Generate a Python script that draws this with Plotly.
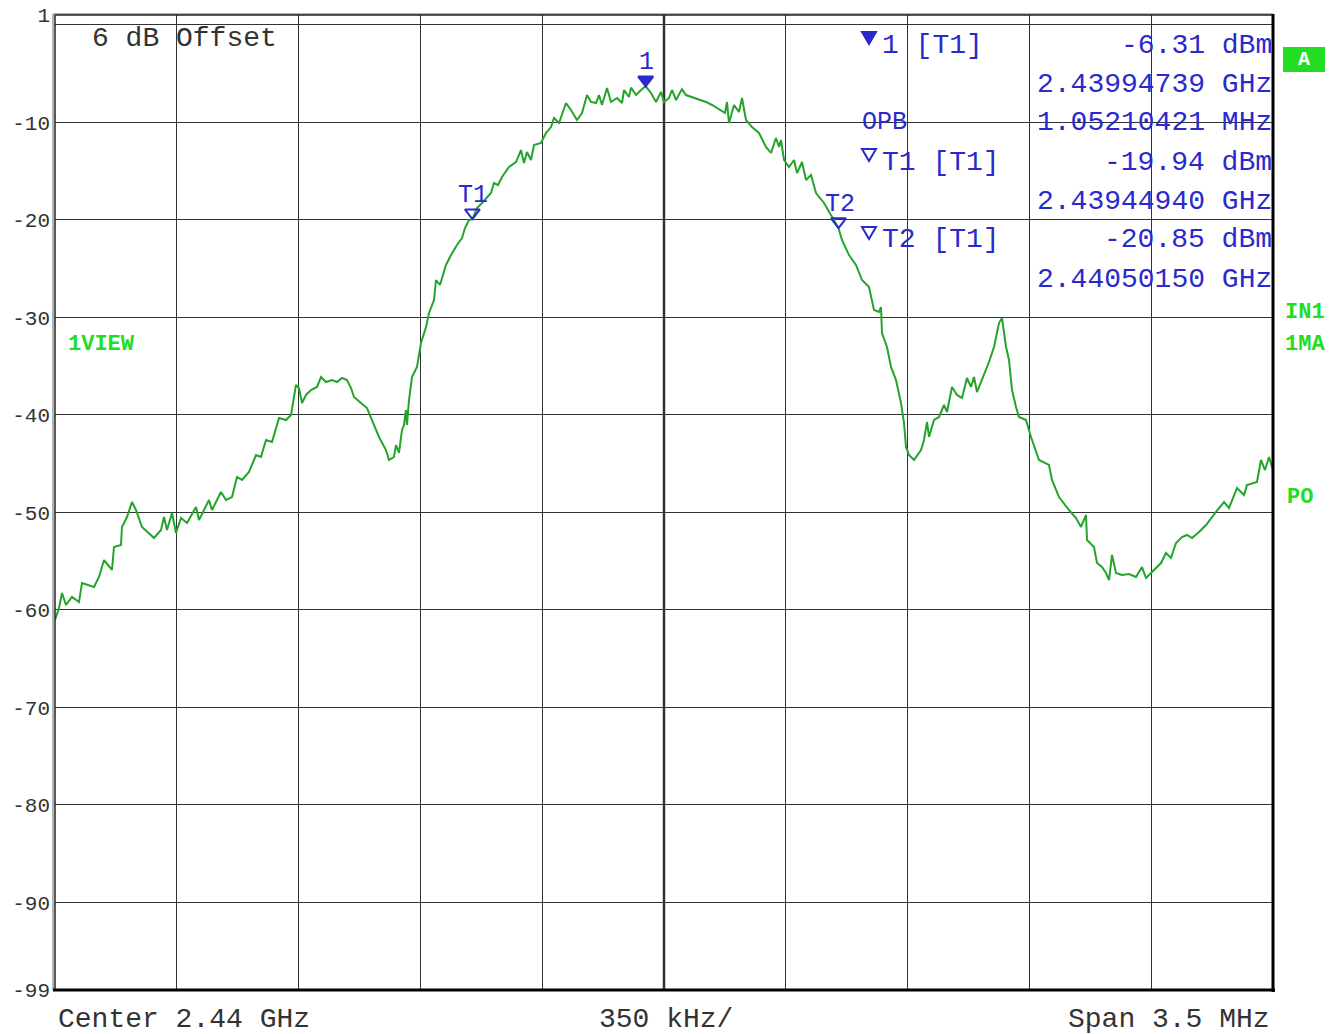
import plotly.graph_objects as go

# Analyzer settings
CENTER_GHZ = 2.44
SPAN_MHZ = 3.5
DIV_KHZ = 350
REF_TOP_DBM = 1
REF_BOTTOM_DBM = -99

# Trace 1: frequency offset from center (kHz) and level (dBm)
freq_offset_khz = [
    -1750, -1738.5, -1729.9, -1718.4, -1701.2, -1681.1, -1672.4, -1652.3, -1638.0, -1623.6,
    -1609.2, -1597.7, -1586.2, -1580.5, -1560.4, -1557.5, -1543.1, -1528.8, -1517.3, -1500.0,
    -1479.9, -1465.5, -1445.4, -1436.8, -1428.2, -1413.8, -1402.3, -1387.9, -1370.7, -1344.8,
    -1336.2, -1307.5, -1298.9, -1273.0, -1258.6, -1241.4, -1227.0, -1212.7, -1192.5, -1172.4,
    -1158.1, -1143.7, -1126.5, -1114.0, -1106.3, -1086.2, -1071.9, -1057.5, -1048.9, -1040.2,
    -1028.7, -1014.4, -997.1, -985.6, -971.3, -954.0, -939.7, -925.3, -910.9, -899.4,
    -890.8, -870.7, -853.5, -839.1, -819.0, -798.9, -790.2, -775.9, -770.1, -761.5,
    -752.9, -747.1, -741.4, -738.5, -732.8, -724.1, -709.8, -698.3, -683.9, -675.3,
    -660.9, -655.2, -643.7, -626.4, -612.1, -594.8, -580.5, -571.8, -560.4, -550.6,
    -537.4, -523.0, -508.6, -497.1, -488.5, -477.0, -465.5, -445.4, -425.3, -410.9,
    -402.3, -393.7, -382.2, -373.6, -353.5, -339.1, -324.7, -316.1, -301.7, -281.6,
    -267.2, -250.0, -235.6, -221.3, -209.8, -195.4, -186.8, -178.2, -163.8, -152.3,
    -135.1, -120.7, -114.9, -100.6, -94.8, -80.5, -66.1, -52.61, -37.4, -23.0,
    -8.6, 0.0, 14.4, 23.0, 34.5, 51.7, 63.2, 80.5, 100.6, 120.7,
    137.9, 163.8, 175.3, 181.0, 186.8, 201.2, 215.5, 224.1, 235.6, 252.9,
    273.0, 293.1, 307.5, 321.8, 330.5, 336.2, 344.8, 359.2, 373.6, 382.2,
    396.6, 408.1, 422.4, 436.8, 459.8, 501.5, 511.5, 531.6, 551.7, 569.0,
    589.1, 603.5, 617.8, 623.6, 626.4, 640.8, 652.3, 666.7, 681.0, 689.7,
    695.4, 704.0, 718.4, 738.5, 747.1, 755.8, 761.5, 775.9, 790.2, 804.6,
    813.2, 827.6, 842.0, 856.3, 870.7, 882.2, 890.8, 899.4, 913.8, 925.3,
    933.9, 948.3, 962.7, 971.3, 982.8, 991.4, 1000.0, 1011.5, 1020.1, 1040.2,
    1054.6, 1077.6, 1106.3, 1114.9, 1135.1, 1163.8, 1183.9, 1198.3, 1212.7, 1215.5,
    1235.6, 1244.3, 1258.6, 1270.1, 1278.8, 1287.4, 1298.9, 1316.1, 1336.2, 1356.3,
    1373.6, 1385.1, 1402.3, 1428.2, 1442.5, 1456.9, 1471.3, 1488.5, 1502.9, 1517.3,
    1537.4, 1557.5, 1586.2, 1609.2, 1623.6, 1646.6, 1666.7, 1675.3, 1704.0, 1715.5,
    1727.0, 1738.5, 1750,
]
level_dbm = [
    -61.05, -59.82, -58.28, -59.51, -58.69, -59.21, -57.26, -57.46, -57.67, -56.64,
    -54.90, -55.41, -55.92, -53.56, -53.36, -51.51, -50.49, -48.95, -49.77, -51.51,
    -52.13, -52.64, -51.82, -50.49, -51.82, -50.08, -52.13, -50.59, -51.10, -49.46,
    -50.79, -48.74, -49.77, -47.92, -48.74, -48.44, -46.38, -46.69, -45.87, -44.13,
    -44.33, -42.59, -42.79, -41.26, -40.33, -40.54, -40.03, -36.95, -37.26, -38.79,
    -37.97, -37.46, -37.15, -36.13, -36.64, -36.44, -36.64, -36.23, -36.44, -37.26,
    -38.18, -38.79, -39.31, -40.54, -42.28, -43.62, -44.64, -44.33, -43.10, -43.92,
    -41.56, -41.05, -39.51, -41.05, -38.49, -36.13, -35.10, -32.64, -31.00, -29.56,
    -28.23, -26.18, -26.69, -24.64, -23.62, -22.59, -21.87, -20.85, -20.03, -19.94,
    -18.80, -18.28, -17.77, -17.26, -16.23, -16.44, -15.62, -14.59, -14.08, -12.85,
    -14.18, -13.05, -13.87, -12.33, -12.13, -11.10, -10.49, -9.56, -10.08, -8.03,
    -8.74, -9.77, -9.05, -7.21, -7.92, -8.03, -7.21, -8.23, -6.49, -7.92,
    -7.51, -8.03, -6.69, -7.41, -6.45, -7.21, -6.69, -6.31, -7.00, -7.92,
    -6.90, -7.92, -7.51, -6.69, -7.72, -6.60, -7.21, -7.41, -7.72, -7.92,
    -8.23, -8.74, -9.05, -7.92, -10.08, -8.23, -8.95, -7.51, -9.77, -10.49,
    -11.10, -12.54, -13.15, -11.62, -12.54, -11.82, -13.87, -14.59, -13.87, -15.21,
    -14.08, -15.92, -15.41, -17.26, -18.28, -20.85, -22.08, -23.62, -24.64, -26.18,
    -26.90, -29.26, -29.46, -28.95, -31.62, -33.05, -35.10, -36.44, -38.79, -40.85,
    -43.31, -44.13, -44.64, -43.62, -42.59, -40.74, -42.28, -40.54, -40.23, -39.00,
    -39.72, -37.15, -37.97, -38.28, -36.23, -37.15, -36.13, -37.67, -36.44, -35.41,
    -34.59, -33.05, -30.59, -30.08, -33.05, -34.38, -37.46, -39.21, -40.23, -40.54,
    -42.28, -44.64, -45.15, -46.69, -48.44, -49.77, -50.59, -51.51, -50.28, -52.85,
    -53.56, -55.21, -55.62, -56.23, -56.95, -54.38, -56.23, -56.44, -56.33, -56.64,
    -55.62, -56.74, -56.13, -55.21, -54.18, -54.69, -53.15, -52.54, -52.33, -52.64,
    -52.03, -51.31, -49.97, -48.95, -49.56, -47.51, -48.23, -47.21, -46.90, -44.64,
    -45.67, -44.33, -45.67,
]

# Markers: peak marker 1 and the two occupied-bandwidth markers
marker_names = ["1", "T1", "T2"]
marker_offset_khz = [-52.61, -550.60, 501.50]
marker_level_dbm = [-6.31, -19.94, -20.85]
opb_mhz = 1.05210421

y_tick_vals = [1, -10, -20, -30, -40, -50, -60, -70, -80, -90, -99]

# Figure geometry (pixels)
W, H = 1341, 1034
L, R, T, B = 55, 68, 15, 44
PW, PH = W - L - R, H - T - B
PX_PER_DB = PH / (REF_TOP_DBM - REF_BOTTOM_DBM)

TRACE_GREEN = "#22a52a"
MARK_BLUE = "#2a2acc"
LABEL_GREEN = "#22dd22"
GRID = "#333333"
MONO = "Liberation Mono, Courier New, monospace"


def xp(px):
    return (px - L) / PW


def yp(py):
    return (T + PH - py) / PH


fig = go.Figure()

fig.add_trace(go.Scatter(
    x=freq_offset_khz, y=level_dbm, mode="lines",
    line=dict(color=TRACE_GREEN, width=2),
    hoverinfo="skip", showlegend=False,
))

# Marker triangles, tip resting on the trace
mk_size = 13
tip_db = (mk_size / 2) / PX_PER_DB
fig.add_trace(go.Scatter(
    x=marker_offset_khz,
    y=[v + tip_db for v in marker_level_dbm],
    mode="markers",
    marker=dict(symbol=["triangle-down", "triangle-down-open", "triangle-down-open"],
                size=mk_size, color=MARK_BLUE, line=dict(color=MARK_BLUE, width=2)),
    hoverinfo="skip", showlegend=False,
))

annotations = []
for name, off, lvl in zip(marker_names, marker_offset_khz, marker_level_dbm):
    annotations.append(dict(
        x=off, y=lvl, xref="x", yref="y", text=name, showarrow=False,
        yshift=24, xshift=1, yanchor="middle", xanchor="center",
        font=dict(family=MONO, size=25, color=MARK_BLUE),
    ))


def txt(s, px, py, anchor="left", size=28, color="#333333", bold=False):
    annotations.append(dict(
        x=xp(px), y=yp(py), xref="paper", yref="paper",
        text=f"<b>{s}</b>" if bold else s, showarrow=False,
        xanchor=anchor, yanchor="middle",
        font=dict(family=MONO, size=size, color=color),
    ))


def readout_triangle(cx, cy, filled):
    # small downward triangle drawn in page pixels around (cx, cy)
    path = (f"M {xp(cx - 7)},{yp(cy - 6)} L {xp(cx + 7)},{yp(cy - 6)} "
            f"L {xp(cx)},{yp(cy + 6)} Z")
    return dict(type="path", xref="paper", yref="paper", path=path,
                fillcolor=MARK_BLUE if filled else "rgba(0,0,0,0)",
                line=dict(color=MARK_BLUE, width=2), layer="above")


shapes = []

# Header inside the graticule
txt("6 dB Offset", 90, 38)

# Marker readout block
rows_y = [45, 162, 240]
filled = [True, False, False]
for i, (name, off, lvl) in enumerate(zip(marker_names, marker_offset_khz, marker_level_dbm)):
    ry = rows_y[i]
    shapes.append(readout_triangle(869, ry - 7, filled[i]))
    txt(f"{name} [T1]", 880, ry, color=MARK_BLUE)
    txt(f"{lvl:.2f} dBm", 1274, ry, anchor="right", color=MARK_BLUE)
    txt(f"{CENTER_GHZ + off / 1e6:.8f} GHz", 1274, ry + 39, anchor="right", color=MARK_BLUE)
txt("OPB", 860, 123, color=MARK_BLUE, size=25)
txt(f"{opb_mhz:.8f} MHz", 1274, 123, anchor="right", color=MARK_BLUE)

# Bottom annotation line
txt(f"Center {CENTER_GHZ:g} GHz", 56, 1020)
txt(f"{DIV_KHZ} kHz/", 666, 1020, anchor="center")
txt(f"Span {SPAN_MHZ:g} MHz", 1272, 1020, anchor="right")

# Green status labels
txt("1VIEW", 66, 344, size=22, color=LABEL_GREEN, bold=True)
txt("IN1", 1283, 312, size=22, color=LABEL_GREEN, bold=True)
txt("1MA", 1283, 344, size=22, color=LABEL_GREEN, bold=True)
txt("PO", 1285, 497, size=22, color=LABEL_GREEN, bold=True)
txt("A", 1304, 60, anchor="center", size=20, color="white", bold=True)

shapes += [
    # trace "A" badge
    dict(type="rect", xref="paper", yref="paper", x0=xp(1283), x1=xp(1325),
         y0=yp(72), y1=yp(47), fillcolor=LABEL_GREEN, line=dict(width=0), layer="above"),
    # doubled center line of the graticule
    dict(type="line", xref="x", yref="paper", x0=0, x1=0, y0=0, y1=1,
         line=dict(color=GRID, width=2.5), layer="below"),
    # frame
    dict(type="line", xref="paper", yref="paper", x0=xp(53), x1=xp(53), y0=0, y1=yp(14),
         line=dict(color="#9a9a9a", width=1.5), layer="above"),
    dict(type="line", xref="paper", yref="paper", x0=xp(53), x1=1, y0=yp(14), y1=yp(14),
         line=dict(color="#9a9a9a", width=1.5), layer="above"),
    dict(type="line", xref="paper", yref="paper", x0=0, x1=0, y0=0, y1=1,
         line=dict(color="#222222", width=1.5), layer="above"),
    dict(type="line", xref="paper", yref="paper", x0=0, x1=1, y0=1, y1=1,
         line=dict(color="#222222", width=1.5), layer="above"),
    dict(type="line", xref="paper", yref="paper", x0=1, x1=1, y0=yp(992), y1=yp(14),
         line=dict(color="black", width=3), layer="above"),
    dict(type="line", xref="paper", yref="paper", x0=xp(53), x1=xp(1275), y0=0, y1=0,
         line=dict(color="black", width=3), layer="above"),
]

fig.update_layout(
    width=W, height=H,
    margin=dict(l=L, r=R, t=T, b=B, pad=0, autoexpand=False),
    paper_bgcolor="white", plot_bgcolor="white",
    showlegend=False,
    annotations=annotations,
    shapes=shapes,
    xaxis=dict(
        range=[-SPAN_MHZ * 500, SPAN_MHZ * 500], tick0=0, dtick=DIV_KHZ,
        showgrid=True, gridcolor=GRID, gridwidth=1,
        showticklabels=False, zeroline=False, showline=False, ticks="",
        automargin=False, fixedrange=True,
    ),
    yaxis=dict(
        range=[REF_BOTTOM_DBM, REF_TOP_DBM],
        tickvals=y_tick_vals, ticktext=[str(v) for v in y_tick_vals],
        showgrid=False, zeroline=False, showline=False, ticks="",
        tickfont=dict(family=MONO, size=21, color="#333333"),
        ticklabelstandoff=4,
        minor=dict(tick0=0, dtick=10, showgrid=True, gridcolor=GRID, gridwidth=1),
        automargin=False, fixedrange=True,
    ),
)

fig.write_html("out.html")
